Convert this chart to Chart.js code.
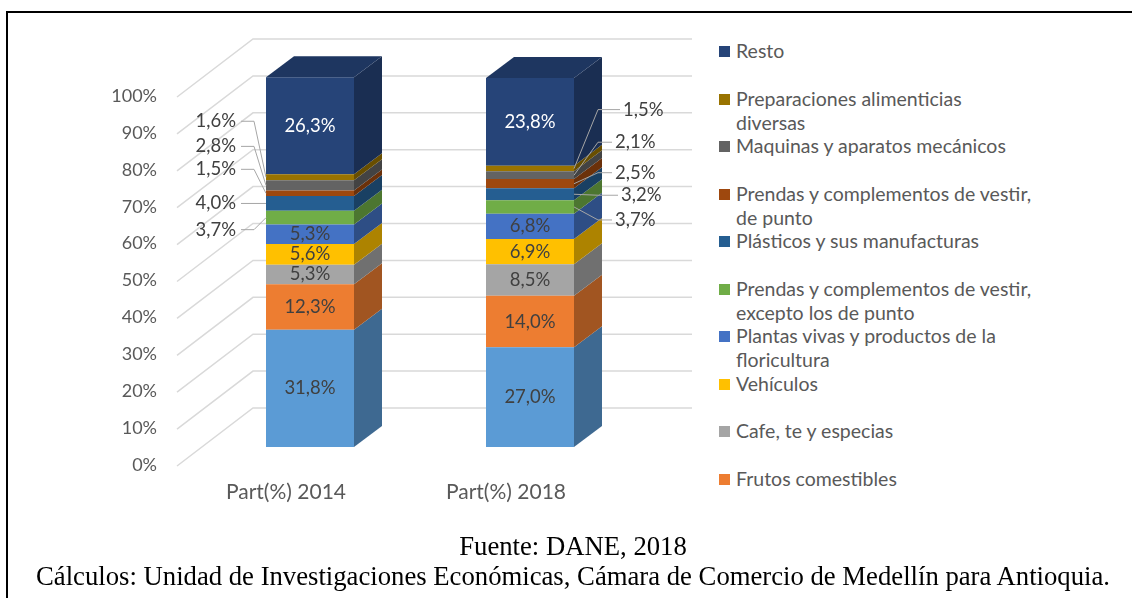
<!DOCTYPE html>
<html>
<head>
<meta charset="utf-8">
<script src="https://cdn.jsdelivr.net/npm/chart.js@4.4.1/dist/chart.umd.min.js"></script>
<style>
  body { margin: 0; background: #fff; width: 1132px; height: 598px; overflow: hidden; position: relative; font-family: Lato, sans-serif; }
  #frame { position: absolute; left: 6px; top: 11px; width: 1200px; height: 700px; border-left: 2px solid #000; border-top: 2px solid #000; }
  #wrap { position: absolute; left: 0; top: 0; width: 700px; height: 598px; }
  #legend { position: absolute; left: 718px; top: 0; width: 400px; }
  .item { position: absolute; left: 0; width: 400px; }
  .item span.box { position: absolute; left: 1px; top: 7px; width: 11px; height: 11px; }
  .item span.txt { display: block; margin-left: 18px; width: 297px; font-size: 19.5px; line-height: 24px; color: #595959; }
  #caption { position: absolute; left: 14px; width: 1118px; top: 531px; text-align: center; font-family: "Liberation Serif", serif; font-size: 26.7px; line-height: 30px; color: #000; white-space: nowrap; }
</style>
</head>
<body>
<div id="frame"></div>
<div id="wrap"><canvas id="chart"></canvas></div>
<div id="legend"></div>
<div id="caption">Fuente: DANE, 2018<br>Cálculos: Unidad de Investigaciones Económicas, Cámara de Comercio de Medellín para Antioquia.</div>
<script>
// datos (de abajo hacia arriba en la pila)
const categories = ['Part(%) 2014', 'Part(%) 2018'];
const seriesNames = ['', 'Frutos comestibles', 'Cafe, te y especias', 'Vehículos',
  'Plantas vivas y productos de la floricultura',
  'Prendas y complementos de vestir, excepto los de punto',
  'Plásticos y sus manufacturas', 'Prendas y complementos de vestir, de punto',
  'Maquinas y aparatos mecánicos', 'Preparaciones alimenticias diversas', 'Resto'];
const values2014 = [31.8, 12.3, 5.3, 5.6, 5.3, 3.7, 4.0, 1.5, 2.8, 1.6, 26.3];
const values2018 = [27.0, 14.0, 8.5, 6.9, 6.8, 3.7, 3.2, 2.5, 2.1, 1.5, 23.8];
const yTicks = [0, 10, 20, 30, 40, 50, 60, 70, 80, 90, 100];

const colors = ['#5B9BD5', '#ED7D31', '#A5A5A5', '#FFC000', '#4472C4', '#70AD47',
  '#255E91', '#9E480E', '#636363', '#997300', '#264478'];

// posicion de las etiquetas con linea guia (px respecto al centro del segmento)
const calloutDy = [
  {5: 12, 6: 0, 7: -24, 8: -39, 9: -56},
  {5: 13, 6: 1, 7: -11, 8: -33, 9: -59}
];
const calloutDx = [
  {5: 0, 6: 0, 7: 0, 8: 0, 9: 0},
  {5: 0, 6: 6, 7: 0, 8: 0, 9: 8}
];

const DEPTH_X = 28, DEPTH_Y = 21;

function shade(hex, f) {
  const n = parseInt(hex.slice(1), 16);
  const r = Math.round(((n >> 16) & 255) * f), g = Math.round(((n >> 8) & 255) * f), b = Math.round((n & 255) * f);
  return 'rgb(' + r + ',' + g + ',' + b + ')';
}
function fmt(v) { return v.toFixed(1).replace('.', ',') + '%'; }

const datasets = seriesNames.map(function(name, i) {
  return {
    label: name,
    data: [values2014[i], values2018[i]],
    backgroundColor: colors[i],
    borderWidth: 0,
    clip: false
  };
});

// paredes con lineas de cuadricula en 3D
const wallPlugin = {
  id: 'wall',
  beforeDatasetsDraw(chart) {
    const ctx = chart.ctx, ys = chart.scales.y, area = chart.chartArea;
    ctx.save();
    ctx.strokeStyle = '#d9d9d9';
    ctx.lineWidth = 1.5;
    yTicks.forEach(function(v) {
      const fy = ys.getPixelForValue(v);
      ctx.beginPath();
      ctx.moveTo(area.left - 23, fy + 19);
      ctx.lineTo(area.left + 53, fy - 39);
      ctx.lineTo(area.right + 52, fy - 39);
      ctx.stroke();
    });
    ctx.restore();
  },
  afterDatasetsDraw(chart) {
    const ctx = chart.ctx;
    const n = chart.data.datasets.length;
    ctx.save();
    // caras laterales y superior
    for (let d = 0; d < n; d++) {
      const meta = chart.getDatasetMeta(d);
      meta.data.forEach(function(bar) {
        const l = bar.x - bar.width / 2, r = bar.x + bar.width / 2;
        const t = bar.y, b = bar.base;
        ctx.fillStyle = shade(colors[d], 0.68);
        ctx.beginPath();
        ctx.moveTo(r, t); ctx.lineTo(r + DEPTH_X, t - DEPTH_Y);
        ctx.lineTo(r + DEPTH_X, b - DEPTH_Y); ctx.lineTo(r, b);
        ctx.closePath(); ctx.fill();
        if (d === n - 1) {
          ctx.fillStyle = shade(colors[d], 0.8);
          ctx.beginPath();
          ctx.moveTo(l, t); ctx.lineTo(l + DEPTH_X, t - DEPTH_Y);
          ctx.lineTo(r + DEPTH_X, t - DEPTH_Y); ctx.lineTo(r, t);
          ctx.closePath(); ctx.fill();
        }
      });
    }
    // etiquetas de datos
    ctx.font = '18.5px Lato';
    ctx.textBaseline = 'middle';
    for (let d = 0; d < n; d++) {
      const meta = chart.getDatasetMeta(d);
      meta.data.forEach(function(bar, c) {
        const v = chart.data.datasets[d].data[c];
        const l = bar.x - bar.width / 2, r = bar.x + bar.width / 2;
        const cy = (bar.y + bar.base) / 2;
        if (v >= 5) {
          ctx.fillStyle = d === n - 1 ? '#ffffff' : '#404040';
          ctx.textAlign = 'center';
          ctx.fillText(fmt(v), bar.x, cy);
          return;
        }
        const ly = cy + calloutDy[c][d];
        ctx.strokeStyle = '#a6a6a6';
        ctx.lineWidth = 1;
        ctx.fillStyle = '#404040';
        if (c === 0) {
          const tx = l - 30 + calloutDx[c][d];
          ctx.beginPath();
          ctx.moveTo(tx + 5, ly); ctx.lineTo(tx + 18, ly); ctx.lineTo(l, cy);
          ctx.stroke();
          ctx.textAlign = 'right';
          ctx.fillText(fmt(v), tx, ly);
        } else {
          const tx = r + 41 + calloutDx[c][d];
          ctx.beginPath();
          ctx.moveTo(tx - 3, ly); ctx.lineTo(r + 24, ly); ctx.lineTo(r, cy);
          ctx.stroke();
          ctx.textAlign = 'left';
          ctx.fillText(fmt(v), tx, ly);
        }
      });
    }
    ctx.restore();
  }
};

const chart = new Chart(document.getElementById('chart').getContext('2d'), {
  type: 'bar',
  data: { labels: categories, datasets: datasets },
  options: {
    responsive: true,
    maintainAspectRatio: false,
    animation: false,
    layout: { padding: { top: 78, right: 60, bottom: 71, left: 0 } },
    plugins: { legend: { display: false }, tooltip: { enabled: false } },
    datasets: { bar: { categoryPercentage: 1, barPercentage: 0.4 } },
    scales: {
      x: {
        stacked: true,
        grid: { display: false, drawTicks: false },
        border: { display: false },
        ticks: { color: '#595959', font: { family: 'Lato', size: 21 }, padding: 33, labelOffset: -24 },
        afterFit(scale) { scale.height = 80; }
      },
      y: {
        stacked: true,
        min: 0, max: 100,
        grid: { display: false, drawTicks: false },
        border: { display: false },
        afterBuildTicks(scale) { scale.ticks = yTicks.map(function(v) { return { value: v }; }); },
        ticks: {
          color: '#595959', font: { family: 'Lato', size: 18 }, padding: 43, labelOffset: 18,
          callback: function(v) { return v + '%'; }
        },
        afterFit(scale) { scale.width = 200; }
      }
    }
  },
  plugins: [wallPlugin]
});

// leyenda (orden inverso, sin la serie sin nombre)
const legend = document.getElementById('legend');
let k = 0;
for (let i = seriesNames.length - 1; i >= 0; i--) {
  if (!seriesNames[i]) continue;
  const div = document.createElement('div');
  div.className = 'item';
  div.style.top = (39 + k * 47.5) + 'px';
  div.innerHTML = '<span class="box" style="background:' + colors[i] + '"></span><span class="txt">' + seriesNames[i] + '</span>';
  legend.appendChild(div);
  k++;
}
</script>
</body>
</html>
